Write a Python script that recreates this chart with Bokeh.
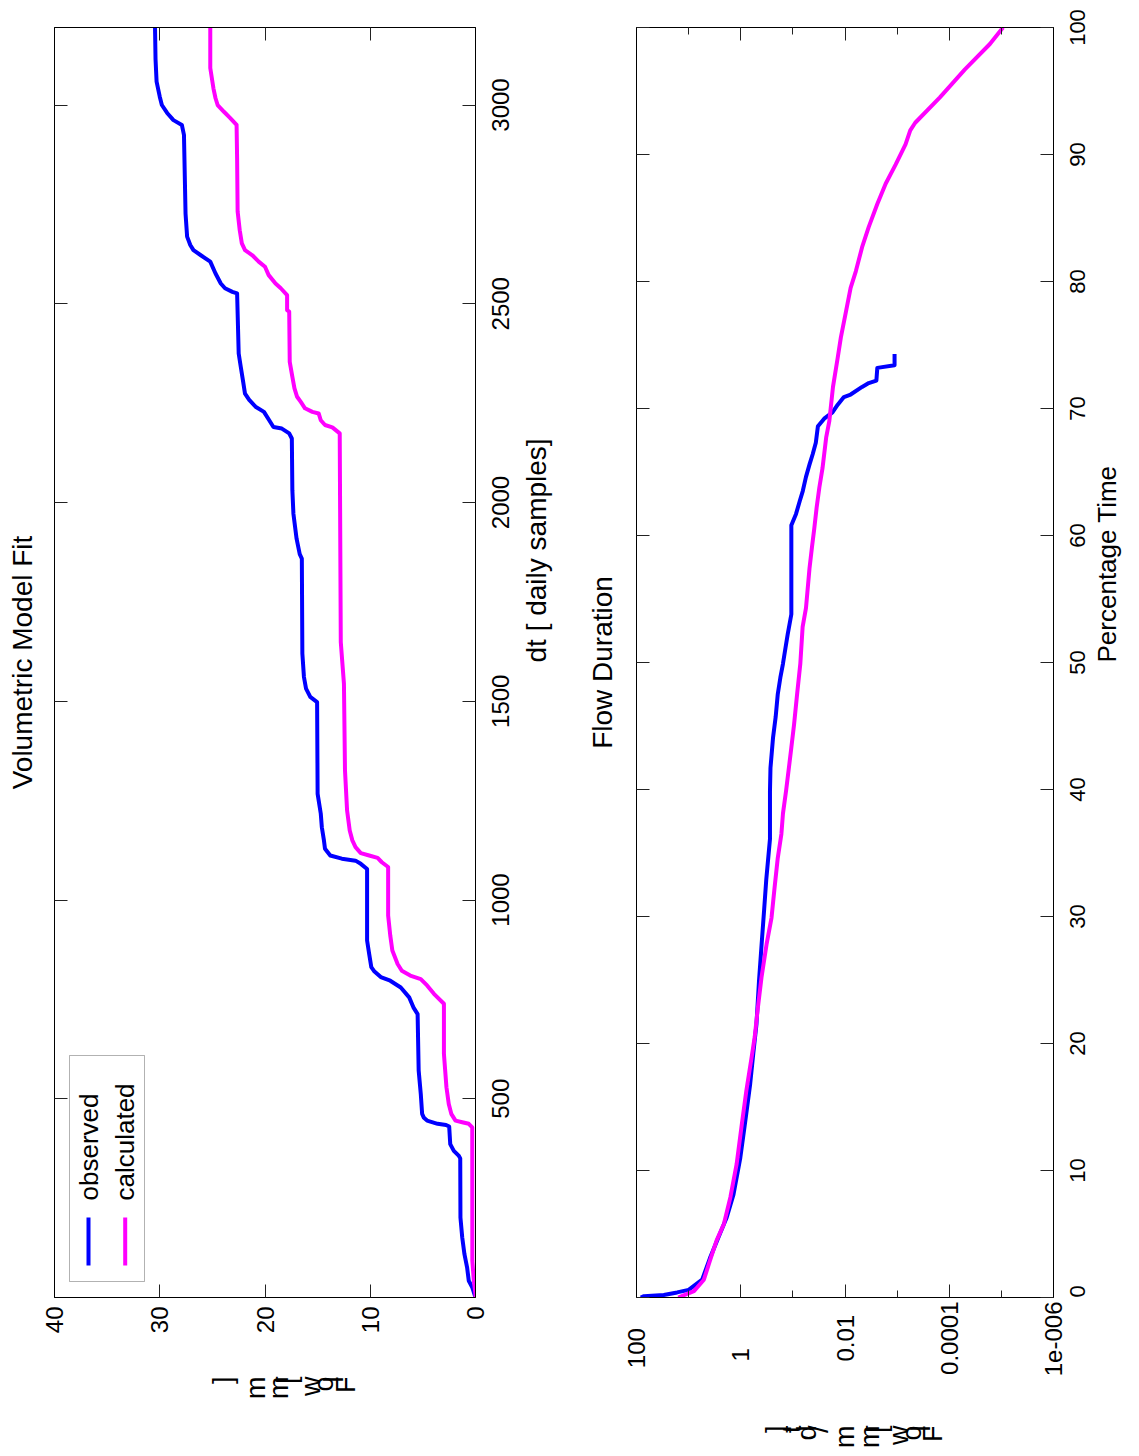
import math

from bokeh.embed import file_html
from bokeh.layouts import row
from bokeh.models import (BoxAnnotation, CustomJSTickFormatter, FixedTicker, Label,
                          LinearAxis, LinearScale, LogAxis, Range1d)
from bokeh.plotting import figure
from bokeh.resources import INLINE

FONT = "Liberation Sans"
BLUE = "#0000ff"
MAGENTA = "#ff00ff"
UP = math.pi / 2
NBSP = "\u00a0"

# ---------------------------------------------------------------- data
# cumulative flow [mm] against the daily sample index
obs_dt = [0, 4, 25, 42, 76, 109, 151, 201, 350, 357, 369, 386, 430, 434, 437, 445, 452,
          462, 512, 571, 713, 730, 755, 780, 797, 806, 820, 831, 864, 898, 1078, 1091,
          1099, 1104, 1112, 1129, 1150, 1183, 1217, 1267, 1498, 1511, 1532, 1561, 1620,
          1859, 1870, 1909, 1972, 2031, 2161, 2174, 2186, 2190, 2207, 2228, 2241, 2258,
          2274, 2308, 2341, 2375, 2526, 2530, 2539, 2551, 2576, 2606, 2622, 2635, 2648,
          2669, 2727, 2925, 2950, 2962, 2980, 3000, 3021, 3059, 3115, 3195]
obs_flow = [0, 0.05, 0.3, 0.64, 0.8, 1.05, 1.26, 1.43, 1.45, 1.6, 2.06, 2.4, 2.5, 2.8,
            3.6, 4.6, 4.9, 5.07, 5.2, 5.4, 5.5, 5.9, 6.3, 7.1, 8.1, 9.0, 9.6, 9.9, 10.1,
            10.3, 10.3, 10.9, 11.4, 12.7, 13.8, 14.3, 14.4, 14.6, 14.7, 15.0, 15.05, 15.7,
            16.1, 16.3, 16.45, 16.5, 16.7, 17.0, 17.3, 17.4, 17.45, 17.7, 18.4, 19.2, 19.6,
            20.1, 20.9, 21.5, 21.9, 22.1, 22.3, 22.5, 22.65, 23.1, 23.8, 24.2, 24.7, 25.2,
            26.1, 26.8, 27.1, 27.4, 27.55, 27.7, 27.9, 28.7, 29.3, 29.8, 30.0, 30.3, 30.4,
            30.45]

calc_dt = [0, 9, 42, 92, 428, 437, 441, 445, 462, 487, 529, 613, 739, 764, 785, 801, 810,
           822, 839, 873, 911, 961, 1083, 1095, 1106, 1112, 1118, 1133, 1150, 1175, 1225,
           1326, 1544, 1649, 2174, 2189, 2195, 2207, 2224, 2228, 2237, 2253, 2266, 2287,
           2316, 2354, 2480, 2484, 2522, 2539, 2551, 2572, 2593, 2606, 2622, 2635, 2652,
           2685, 2732, 2866, 2950, 2967, 2983, 3000, 3017, 3042, 3093, 3195]
calc_flow = [0, 0.0, 0.16, 0.3, 0.31, 0.64, 1.26, 1.9, 2.3, 2.54, 2.76, 3.0, 3.0, 3.95,
             4.6, 5.2, 6.2, 7.0, 7.4, 7.9, 8.1, 8.3, 8.3, 8.9, 9.3, 10.1, 10.9, 11.4, 11.7,
             11.95, 12.2, 12.4, 12.5, 12.8, 12.9, 13.6, 14.3, 14.7, 14.9, 15.5, 16.2, 16.6,
             16.95, 17.2, 17.4, 17.65, 17.7, 17.9, 17.9, 18.5, 19.0, 19.65, 20.0, 20.6,
             21.2, 21.9, 22.2, 22.4, 22.6, 22.65, 22.7, 23.3, 23.9, 24.5, 24.7, 24.9, 25.2,
             25.2]

# flow duration: percentage of time a flow [mm/dt] is exceeded
obs_pct = [0, 0.1, 0.2, 0.4, 0.6, 1.4, 3.1, 4.7, 6.3, 8.1, 11.0, 13.7, 16.8, 19.2, 21.5,
           24.9, 27.8, 30.6, 32.9, 36.1, 39.9, 41.7, 44.1, 45.7, 47.5, 48.8, 49.9, 51.2,
           52.2, 53.8, 60.8, 61.7, 62.7, 63.5, 64.6, 65.6, 66.4, 67.3, 68.6, 69.2, 69.7,
           70.3, 70.9, 71.1, 71.7, 72.0, 72.2, 73.2, 73.4, 74.3]
obs_q = [83, 72, 30, 16.6, 10, 5.5, 3.9, 2.7, 1.86, 1.38, 1.02, 0.83, 0.66, 0.575, 0.50,
         0.447, 0.398, 0.355, 0.324, 0.275, 0.275, 0.269, 0.240, 0.214, 0.195, 0.174, 0.155,
         0.138, 0.126, 0.107, 0.107, 0.087, 0.074, 0.0646, 0.0562, 0.0479, 0.0417, 0.0363,
         0.0331, 0.0251, 0.0174, 0.0138, 0.0105, 0.0078, 0.0047, 0.0035, 0.0025, 0.0024,
         0.00112, 0.00112]

calc_pct = [0, 0.5, 1.4, 2.9, 4.5, 5.8, 7.9, 10.5, 13.7, 16.3, 18.9, 20.5, 22.8, 25.2,
            27.8, 29.9, 32.3, 34.6, 36.5, 38.1, 39.9, 40.9, 43.3, 45.1, 47.5, 49.9, 52.8,
            54.3, 57.4, 59.1, 60.5, 62.2, 63.8, 65.3, 67.7, 69.0, 71.7, 74.0, 75.6, 77.7,
            79.5, 80.8, 82.7, 84.3, 86.1, 87.7, 89.2, 90.8, 91.9, 92.5, 94.5, 96.7, 98.7, 100]
calc_q = [15.8, 7.9, 5.1, 3.9, 2.9, 2.1, 1.58, 1.2, 0.95, 0.78, 0.62, 0.54, 0.47, 0.40,
          0.32, 0.257, 0.224, 0.195, 0.166, 0.155, 0.135, 0.126, 0.107, 0.095, 0.083, 0.072,
          0.065, 0.056, 0.048, 0.043, 0.039, 0.035, 0.031, 0.027, 0.023, 0.020, 0.017,
          0.0138, 0.012, 0.0095, 0.0078, 0.0062, 0.0047, 0.0035, 0.0024, 0.00166, 0.00107,
          0.00069, 0.00056, 0.00045, 0.000151, 0.00005, 0.0000166, 0.0000093]

# ticks
flow_ticks = [0, 10, 20, 30, 40]
dt_ticks = [500, 1000, 1500, 2000, 2500, 3000]
pct_ticks = [0, 10, 20, 30, 40, 50, 60, 70, 80, 90, 100]
q_ticks = [100, 1, 0.01, 0.0001, 1e-6]
q_tick_labels = ["100", "1", "0.01", "0.0001", "1e-006"]
q_minor_ticks = [10, 0.1, 0.001, 1e-5]
# no-break spaces trailing each exponent label so that it sits centred under its tick
q_label_pad = [4, 7, 2, 0, 0]

FLOW_MAX = 40
DT_MAX = 3195
Q_TOP, Q_BOTTOM = 100, 1e-6
FRAME_H = 1456 - 27 - 159

# y labels are set glyph by glyph, each glyph turned on its own
# (glyph, position in px from the left edge of the plot box)
flow_label_glyphs = [("F", 291), ("l", 279), ("o", 269), ("w", 256), ("[", 232),
                     ("m", 224), ("m", 201), ("]", 168)]
rate_label_glyphs = [("F", 299), ("l", 287), ("o", 277), ("w", 264), ("[", 242),
                     ("m", 235), ("m", 210), ("/", 184), ("d", 172), ("t", 157), ("]", 141)]


# ---------------------------------------------------------------- helpers
def style_ticks(ax):
    ax.major_tick_in = 13
    ax.major_tick_out = 0
    ax.minor_tick_in = 7
    ax.minor_tick_out = 0
    ax.major_tick_line_color = "#222222"
    ax.minor_tick_line_color = "#222222"
    ax.axis_line_color = "black"


def bare_labels(ax, standoff, size_px=24):
    ax.major_label_orientation = UP
    ax.major_label_standoff = standoff
    ax.major_label_text_font = FONT
    ax.major_label_text_font_size = f"{size_px}px"
    ax.major_label_text_color = "black"


def no_ticks(ax):
    ax.axis_line_color = None
    ax.major_tick_line_color = None
    ax.minor_tick_line_color = None
    ax.major_tick_in = ax.major_tick_out = 0
    ax.minor_tick_in = ax.minor_tick_out = 0


def mirror_axis(p, cls, side, ticks, minor=()):
    ax = cls(ticker=FixedTicker(ticks=list(ticks), minor_ticks=list(minor)),
             formatter=CustomJSTickFormatter(code="return ''"))
    style_ticks(ax)
    ax.major_label_standoff = 0
    ax.major_label_text_font_size = "1px"
    p.add_layout(ax, side)
    return ax


def label_axis(p, cls, side, ticks, minor=(), overrides=None, standoff=8):
    ax = cls(ticker=FixedTicker(ticks=list(ticks), minor_ticks=list(minor)))
    style_ticks(ax)
    bare_labels(ax, standoff)
    if overrides:
        ax.major_label_overrides = overrides
    p.add_layout(ax, side)
    return ax


def side_axis(p, ticks, range_name, standoff, size_px):
    """Right-hand axis with upright tick labels centred on their ticks.

    Upright labels start at their tick, so the axis runs on a copy of the y range
    that is shifted by half the longest label; shorter labels are led by no-break
    spaces.  The tick marks themselves are the minor ticks of that shifted copy,
    placed back on the true tick values.
    """
    digit_px, space_px = 0.556 * size_px, 0.278 * size_px
    texts = [str(t) for t in ticks]
    longest = max(len(s) for s in texts) * digit_px
    lo, hi = p.y_range.start, p.y_range.end
    px_per_unit = FRAME_H / (hi - lo)
    shift = longest / 2 / px_per_unit
    p.extra_y_ranges[range_name] = Range1d(lo + shift, hi + shift)
    positions, overrides = [], {}
    for t, s in zip(ticks, texts):
        pos = max(t, lo + shift)
        lead_px = -len(s) * digit_px / 2 - (pos - shift - t) * px_per_unit
        positions.append(pos)
        overrides[pos] = NBSP * max(0, round(lead_px / space_px)) + s
    ax = LinearAxis(y_range_name=range_name,
                    ticker=FixedTicker(ticks=positions, minor_ticks=[t + shift for t in ticks]),
                    major_label_overrides=overrides)
    style_ticks(ax)
    ax.major_tick_line_color = None
    ax.major_tick_in = 0
    ax.minor_tick_in = 13
    bare_labels(ax, standoff, size_px)
    p.add_layout(ax, "right")
    return ax


def glyph_axis(p, glyphs, standoff):
    ticks = [float(x) for _, x in glyphs]
    ax = LinearAxis(x_range_name="px", ticker=FixedTicker(ticks=ticks),
                    major_label_overrides={float(x): ch for ch, x in glyphs})
    no_ticks(ax)
    bare_labels(ax, standoff, 27)
    p.add_layout(ax, "below")


def axis_title(ax, text, standoff, size_px=28, orientation=None):
    ax.axis_label = text
    ax.axis_label_text_font = FONT
    ax.axis_label_text_font_size = f"{size_px}px"
    ax.axis_label_text_font_style = "normal"
    ax.axis_label_text_color = "black"
    ax.axis_label_standoff = standoff
    if orientation is not None:
        ax.axis_label_orientation = orientation


def base_figure(width, xr, yr, x_type, left, right, frame_w):
    p = figure(width=width, height=1456, x_range=xr, y_range=yr, x_axis_type=x_type,
               x_axis_location=None, y_axis_location=None, toolbar_location=None,
               output_backend="svg", min_border_left=left, min_border_right=right,
               min_border_top=27, min_border_bottom=159)
    p.extra_x_ranges = {"px": Range1d(0, frame_w)}
    p.extra_x_scales = {"px": LinearScale()}
    p.grid.visible = False
    p.outline_line_color = "black"
    p.background_fill_color = "white"
    p.border_fill_color = "white"
    return p


# ---------------------------------------------------------------- volumetric fit
p1 = base_figure(575, Range1d(FLOW_MAX, 0), Range1d(0, DT_MAX), "linear", 54, 100, 421)
label_axis(p1, LinearAxis, "below", flow_ticks, standoff=9)
glyph_axis(p1, flow_label_glyphs, standoff=40)
mirror_axis(p1, LinearAxis, "above", flow_ticks)
left1 = mirror_axis(p1, LinearAxis, "left", dt_ticks)
axis_title(left1, "Volumetric Model Fit", 17)
dt_axis = side_axis(p1, dt_ticks, "dt_labels", standoff=25, size_px=24)
axis_title(dt_axis, "dt [ daily samples]", 6, orientation=UP)

p1.line(obs_flow, obs_dt, color=BLUE, line_width=4, line_join="round")
p1.line(calc_flow, calc_dt, color=MAGENTA, line_width=4, line_join="round")

# key box with vertical sample strokes
p1.add_layout(BoxAnnotation(left=15, right=90, bottom=16, top=242, left_units="screen",
                            right_units="screen", top_units="screen", bottom_units="screen",
                            fill_color=None, line_color="black", line_width=1))
for cx, col, name in ((34, BLUE, "observed"), (70.7, MAGENTA, "calculated")):
    p1.add_layout(BoxAnnotation(left=cx - 2, right=cx + 2, bottom=32, top=80,
                                left_units="screen", right_units="screen",
                                top_units="screen", bottom_units="screen",
                                fill_color=col, fill_alpha=1, line_color=None))
    p1.add_layout(Label(x=cx, y=97, x_units="screen", y_units="screen", text=name,
                        angle=UP, text_align="left", text_baseline="middle",
                        text_font=FONT, text_font_size="26px", text_color="black"))

# ---------------------------------------------------------------- flow duration
p2 = base_figure(564, Range1d(Q_TOP, Q_BOTTOM), Range1d(0, 100), "log", 61, 83, 420)
label_axis(p2, LogAxis, "below", q_ticks, q_minor_ticks,
           overrides={t: s + NBSP * n for t, s, n in zip(q_ticks, q_tick_labels, q_label_pad)},
           standoff=4)
glyph_axis(p2, rate_label_glyphs, standoff=46)
mirror_axis(p2, LogAxis, "above", q_ticks, q_minor_ticks)
left2 = mirror_axis(p2, LinearAxis, "left", pct_ticks)
axis_title(left2, "Flow Duration", 19)
pct_axis = side_axis(p2, pct_ticks, "pct_labels", standoff=24, size_px=22)
axis_title(pct_axis, "Percentage Time", 1, size_px=26, orientation=UP)

p2.line(obs_q, obs_pct, color=BLUE, line_width=4, line_join="round")
p2.line(calc_q, calc_pct, color=MAGENTA, line_width=4, line_join="round")

layout = row(p1, p2)
open("out.html", "w").write(file_html(layout, INLINE))
